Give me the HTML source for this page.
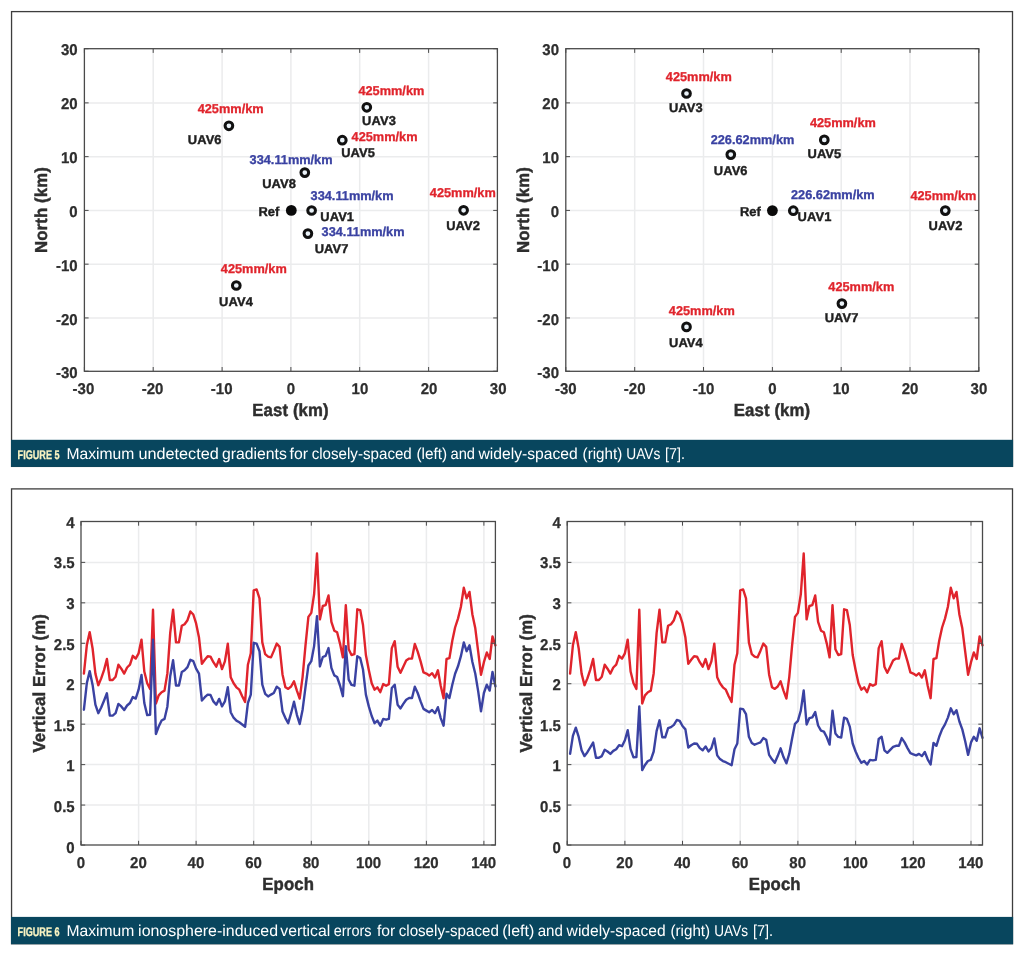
<!DOCTYPE html>
<html lang="en"><head><meta charset="utf-8"><title>Figures 5 and 6</title>
<style>html,body{margin:0;padding:0;background:#fff}svg{display:block;filter:blur(0.4px);text-rendering:geometricPrecision}text{font-family:"Liberation Sans",Arial,sans-serif}.tk{font-size:15px;font-weight:bold;fill:#2e2e2e;stroke:#2e2e2e;stroke-width:.25px}.al{font-size:16.75px;letter-spacing:.14px;font-weight:bold;fill:#2e2e2e;stroke:#2e2e2e;stroke-width:.45px}.lb{font-size:12.9px;font-weight:bold;fill:#1f1f1f;stroke:#1f1f1f;stroke-width:.4px;letter-spacing:.1px}.r{font-size:12.75px;font-weight:bold;fill:#e0242c;stroke:#e0242c;stroke-width:.3px}.b{font-size:12.75px;font-weight:bold;fill:#3a42a2;stroke:#3a42a2;stroke-width:.3px}.fg{font-size:12.4px;font-weight:bold;fill:#faf4c2;stroke:#faf4c2;stroke-width:.3px}.cp{font-size:15.8px;fill:#fff}</style></head><body>
<svg width="1024" height="964" viewBox="0 0 1024 964">
<rect width="1024" height="964" fill="#fff"/>
<rect x="11.55" y="11.60" width="1000.95" height="454.8" fill="#fff" stroke="#3d3d3d" stroke-width="1.3"/>
<rect x="11" y="439.8" width="1002.1" height="27.1" fill="#08465e"/>
<text class="fg" x="17.6" y="458.7" textLength="42" lengthAdjust="spacingAndGlyphs">FIGURE 5</text>
<text class="cp" x="66.5" y="458.9" textLength="67.9" lengthAdjust="spacingAndGlyphs">Maximum</text>
<text class="cp" x="138.5" y="458.9" textLength="80.3" lengthAdjust="spacingAndGlyphs">undetected</text>
<text class="cp" x="222.0" y="458.9" textLength="64.9" lengthAdjust="spacingAndGlyphs">gradients</text>
<text class="cp" x="289.5" y="458.9" textLength="18.5" lengthAdjust="spacingAndGlyphs">for</text>
<text class="cp" x="311.7" y="458.9" textLength="100.1" lengthAdjust="spacingAndGlyphs">closely-spaced</text>
<text class="cp" x="416.5" y="458.9" textLength="30.7" lengthAdjust="spacingAndGlyphs">(left)</text>
<text class="cp" x="450.5" y="458.9" textLength="24.5" lengthAdjust="spacingAndGlyphs">and</text>
<text class="cp" x="478.5" y="458.9" textLength="99.3" lengthAdjust="spacingAndGlyphs">widely-spaced</text>
<text class="cp" x="582.6" y="458.9" textLength="39.7" lengthAdjust="spacingAndGlyphs">(right)</text>
<text class="cp" x="626.3" y="458.9" textLength="34.1" lengthAdjust="spacingAndGlyphs">UAVs</text>
<text class="cp" x="665.1" y="458.9" textLength="19.9" lengthAdjust="spacingAndGlyphs">[7].</text>
<path d="M153.2 48.7V371.2M222.1 48.7V371.2M290.9 48.7V371.2M359.7 48.7V371.2M428.6 48.7V371.2M84.4 317.94H497.4M84.4 264.17H497.4M84.4 210.41H497.4M84.4 156.65H497.4M84.4 102.88H497.4" stroke="#ebeced" stroke-width="1.5" fill="none"/>
<path d="M84.4 371.2v-4.2M84.4 48.7v4.2M153.2 371.2v-4.2M153.2 48.7v4.2M222.1 371.2v-4.2M222.1 48.7v4.2M290.9 371.2v-4.2M290.9 48.7v4.2M359.7 371.2v-4.2M359.7 48.7v4.2M428.6 371.2v-4.2M428.6 48.7v4.2M497.4 371.2v-4.2M497.4 48.7v4.2M84.4 371.25h4.2M497.4 371.25h-4.2M84.4 317.94h4.2M497.4 317.94h-4.2M84.4 264.17h4.2M497.4 264.17h-4.2M84.4 210.41h4.2M497.4 210.41h-4.2M84.4 156.65h4.2M497.4 156.65h-4.2M84.4 102.88h4.2M497.4 102.88h-4.2M84.4 48.67h4.2M497.4 48.67h-4.2" stroke="#4a4a4a" stroke-width="1" fill="none"/>
<rect x="84.4" y="48.7" width="413.0" height="322.6" fill="none" stroke="#4a4a4a" stroke-width="1.3"/>
<text class="tk" text-anchor="middle" transform="translate(83.4 394.4) scale(1 1.04)">-30</text>
<text class="tk" text-anchor="middle" transform="translate(152.5 394.4) scale(1 1.04)">-20</text>
<text class="tk" text-anchor="middle" transform="translate(221.7 394.4) scale(1 1.04)">-10</text>
<text class="tk" text-anchor="middle" transform="translate(290.8 394.4) scale(1 1.04)">0</text>
<text class="tk" text-anchor="middle" transform="translate(359.9 394.4) scale(1 1.04)">10</text>
<text class="tk" text-anchor="middle" transform="translate(429.1 394.4) scale(1 1.04)">20</text>
<text class="tk" text-anchor="middle" transform="translate(498.2 394.4) scale(1 1.04)">30</text>
<text class="tk" text-anchor="end" transform="translate(77.6 378.4) scale(1 1.04)">-30</text>
<text class="tk" text-anchor="end" transform="translate(77.6 324.5) scale(1 1.04)">-20</text>
<text class="tk" text-anchor="end" transform="translate(77.6 270.5) scale(1 1.04)">-10</text>
<text class="tk" text-anchor="end" transform="translate(77.6 216.6) scale(1 1.04)">0</text>
<text class="tk" text-anchor="end" transform="translate(77.6 162.7) scale(1 1.04)">10</text>
<text class="tk" text-anchor="end" transform="translate(77.6 108.8) scale(1 1.04)">20</text>
<text class="tk" text-anchor="end" transform="translate(77.6 54.8) scale(1 1.04)">30</text>
<text class="al" text-anchor="middle" transform="translate(290.5 415.9) scale(1 1.05)">East (km)</text>
<text class="al" text-anchor="middle" transform="translate(47.4 210.0) rotate(-90) scale(1 1.03)">North (km)</text>
<circle cx="311.6" cy="210.5" r="3.85" fill="#eaf2f8" stroke="#111" stroke-width="3"/>
<circle cx="463.6" cy="210.3" r="3.85" fill="#eaf2f8" stroke="#111" stroke-width="3"/>
<circle cx="366.8" cy="107.3" r="3.85" fill="#eaf2f8" stroke="#111" stroke-width="3"/>
<circle cx="236.3" cy="285.5" r="3.85" fill="#eaf2f8" stroke="#111" stroke-width="3"/>
<circle cx="342.3" cy="140.2" r="3.85" fill="#eaf2f8" stroke="#111" stroke-width="3"/>
<circle cx="228.9" cy="125.8" r="3.85" fill="#eaf2f8" stroke="#111" stroke-width="3"/>
<circle cx="307.9" cy="233.6" r="3.85" fill="#eaf2f8" stroke="#111" stroke-width="3"/>
<circle cx="304.8" cy="172.6" r="3.85" fill="#eaf2f8" stroke="#111" stroke-width="3"/>
<circle cx="291.3" cy="210.4" r="5.4" fill="#0a0a0a"/>
<text class="r" x="197.7" y="113.1">425mm/km</text>
<text class="lb" x="187.8" y="143.5">UAV6</text>
<text class="b" x="249.6" y="163.7">334.11mm/km</text>
<text class="lb" x="262.2" y="188.1">UAV8</text>
<text class="lb" x="258.4" y="216.0">Ref</text>
<text class="b" x="310.6" y="199.8">334.11mm/km</text>
<text class="lb" x="320.3" y="220.8">UAV1</text>
<text class="b" x="321.6" y="236.0">334.11mm/km</text>
<text class="lb" x="314.7" y="253.2">UAV7</text>
<text class="r" x="358.4" y="94.6">425mm/km</text>
<text class="lb" x="362.1" y="124.8">UAV3</text>
<text class="r" x="351.6" y="140.6">425mm/km</text>
<text class="lb" x="341.2" y="157.3">UAV5</text>
<text class="r" x="429.8" y="197.1">425mm/km</text>
<text class="lb" x="446.2" y="229.6">UAV2</text>
<text class="r" x="220.8" y="273.2">425mm/km</text>
<text class="lb" x="219.1" y="305.6">UAV4</text>
<path d="M634.7 48.7V371.2M703.5 48.7V371.2M772.4 48.7V371.2M841.2 48.7V371.2M910.0 48.7V371.2M565.8 317.94H978.9M565.8 264.17H978.9M565.8 210.41H978.9M565.8 156.65H978.9M565.8 102.88H978.9" stroke="#ebeced" stroke-width="1.5" fill="none"/>
<path d="M565.8 371.2v-4.2M565.8 48.7v4.2M634.7 371.2v-4.2M634.7 48.7v4.2M703.5 371.2v-4.2M703.5 48.7v4.2M772.4 371.2v-4.2M772.4 48.7v4.2M841.2 371.2v-4.2M841.2 48.7v4.2M910.0 371.2v-4.2M910.0 48.7v4.2M978.9 371.2v-4.2M978.9 48.7v4.2M565.8 371.25h4.2M978.9 371.25h-4.2M565.8 317.94h4.2M978.9 317.94h-4.2M565.8 264.17h4.2M978.9 264.17h-4.2M565.8 210.41h4.2M978.9 210.41h-4.2M565.8 156.65h4.2M978.9 156.65h-4.2M565.8 102.88h4.2M978.9 102.88h-4.2M565.8 48.67h4.2M978.9 48.67h-4.2" stroke="#4a4a4a" stroke-width="1" fill="none"/>
<rect x="565.8" y="48.7" width="413.0" height="322.6" fill="none" stroke="#4a4a4a" stroke-width="1.3"/>
<text class="tk" text-anchor="middle" transform="translate(565.8 394.4) scale(1 1.04)">-30</text>
<text class="tk" text-anchor="middle" transform="translate(634.7 394.4) scale(1 1.04)">-20</text>
<text class="tk" text-anchor="middle" transform="translate(703.5 394.4) scale(1 1.04)">-10</text>
<text class="tk" text-anchor="middle" transform="translate(772.4 394.4) scale(1 1.04)">0</text>
<text class="tk" text-anchor="middle" transform="translate(841.2 394.4) scale(1 1.04)">10</text>
<text class="tk" text-anchor="middle" transform="translate(910.0 394.4) scale(1 1.04)">20</text>
<text class="tk" text-anchor="middle" transform="translate(978.9 394.4) scale(1 1.04)">30</text>
<text class="tk" text-anchor="end" transform="translate(559.0 378.4) scale(1 1.04)">-30</text>
<text class="tk" text-anchor="end" transform="translate(559.0 324.5) scale(1 1.04)">-20</text>
<text class="tk" text-anchor="end" transform="translate(559.0 270.5) scale(1 1.04)">-10</text>
<text class="tk" text-anchor="end" transform="translate(559.0 216.6) scale(1 1.04)">0</text>
<text class="tk" text-anchor="end" transform="translate(559.0 162.7) scale(1 1.04)">10</text>
<text class="tk" text-anchor="end" transform="translate(559.0 108.8) scale(1 1.04)">20</text>
<text class="tk" text-anchor="end" transform="translate(559.0 54.8) scale(1 1.04)">30</text>
<text class="al" text-anchor="middle" transform="translate(772.0 415.9) scale(1 1.05)">East (km)</text>
<text class="al" text-anchor="middle" transform="translate(528.9 210.0) rotate(-90) scale(1 1.03)">North (km)</text>
<circle cx="793.3" cy="210.7" r="3.85" fill="#eaf2f8" stroke="#111" stroke-width="3"/>
<circle cx="945.3" cy="210.6" r="3.85" fill="#eaf2f8" stroke="#111" stroke-width="3"/>
<circle cx="686.5" cy="93.5" r="3.85" fill="#eaf2f8" stroke="#111" stroke-width="3"/>
<circle cx="686.5" cy="326.9" r="3.85" fill="#eaf2f8" stroke="#111" stroke-width="3"/>
<circle cx="824.3" cy="139.9" r="3.85" fill="#eaf2f8" stroke="#111" stroke-width="3"/>
<circle cx="730.8" cy="154.6" r="3.85" fill="#eaf2f8" stroke="#111" stroke-width="3"/>
<circle cx="841.9" cy="303.6" r="3.85" fill="#eaf2f8" stroke="#111" stroke-width="3"/>
<circle cx="772.4" cy="210.6" r="5.4" fill="#0a0a0a"/>
<text class="r" x="665.8" y="81.1">425mm/km</text>
<text class="lb" x="668.9" y="112.2">UAV3</text>
<text class="b" x="710.7" y="143.7">226.62mm/km</text>
<text class="lb" x="713.8" y="174.9">UAV6</text>
<text class="r" x="809.9" y="126.9">425mm/km</text>
<text class="lb" x="807.5" y="158.0">UAV5</text>
<text class="lb" x="739.9" y="216.0">Ref</text>
<text class="b" x="791.0" y="198.5">226.62mm/km</text>
<text class="lb" x="797.6" y="220.8">UAV1</text>
<text class="r" x="910.4" y="199.5">425mm/km</text>
<text class="lb" x="928.6" y="229.7">UAV2</text>
<text class="r" x="668.8" y="315.3">425mm/km</text>
<text class="lb" x="669.0" y="347.0">UAV4</text>
<text class="r" x="828.3" y="291.4">425mm/km</text>
<text class="lb" x="824.7" y="322.4">UAV7</text>
<rect x="11.55" y="488.90" width="1000.95" height="454.8" fill="#fff" stroke="#3d3d3d" stroke-width="1.3"/>
<rect x="11" y="916.9" width="1002.1" height="27.3" fill="#08465e"/>
<text class="fg" x="17.6" y="935.8" textLength="42" lengthAdjust="spacingAndGlyphs">FIGURE 6</text>
<text class="cp" x="66.5" y="936.0" textLength="67.9" lengthAdjust="spacingAndGlyphs">Maximum</text>
<text class="cp" x="138.1" y="936.0" textLength="140.0" lengthAdjust="spacingAndGlyphs">ionosphere-induced</text>
<text class="cp" x="280.3" y="936.0" textLength="49.9" lengthAdjust="spacingAndGlyphs">vertical</text>
<text class="cp" x="333.7" y="936.0" textLength="37.9" lengthAdjust="spacingAndGlyphs">errors</text>
<text class="cp" x="376.9" y="936.0" textLength="18.3" lengthAdjust="spacingAndGlyphs">for</text>
<text class="cp" x="398.7" y="936.0" textLength="100.2" lengthAdjust="spacingAndGlyphs">closely-spaced</text>
<text class="cp" x="502.3" y="936.0" textLength="32.0" lengthAdjust="spacingAndGlyphs">(left)</text>
<text class="cp" x="537.7" y="936.0" textLength="25.2" lengthAdjust="spacingAndGlyphs">and</text>
<text class="cp" x="566.6" y="936.0" textLength="99.0" lengthAdjust="spacingAndGlyphs">widely-spaced</text>
<text class="cp" x="670.5" y="936.0" textLength="39.6" lengthAdjust="spacingAndGlyphs">(right)</text>
<text class="cp" x="714.3" y="936.0" textLength="33.7" lengthAdjust="spacingAndGlyphs">UAVs</text>
<text class="cp" x="752.9" y="936.0" textLength="20.2" lengthAdjust="spacingAndGlyphs">[7].</text>
<path d="M138.6 521.5V845.0M196.1 521.5V845.0M253.7 521.5V845.0M311.3 521.5V845.0M368.8 521.5V845.0M426.4 521.5V845.0M483.9 521.5V845.0M81.0 805.06H495.4M81.0 764.61H495.4M81.0 724.17H495.4M81.0 683.73H495.4M81.0 643.28H495.4M81.0 602.84H495.4M81.0 562.39H495.4" stroke="#ebeced" stroke-width="1.5" fill="none"/>
<polyline points="83.9,673.6 86.8,645.3 89.7,632.1 92.6,648.5 95.4,673.6 98.3,685.2 101.2,678.4 104.1,669.9 106.9,659.0 109.8,680.0 112.7,680.0 115.6,676.8 118.4,664.7 121.3,668.7 124.2,673.6 127.1,667.5 130.0,664.7 132.8,655.8 135.7,658.6 138.6,653.3 141.5,639.6 144.3,671.5 147.2,683.3 150.1,688.9 153.0,609.7 155.9,703.5 158.7,695.4 161.6,692.2 164.5,690.6 167.4,673.2 170.2,633.1 173.1,609.7 176.0,642.4 178.9,642.4 181.8,625.8 184.6,624.2 187.5,620.2 190.4,611.5 193.3,614.5 196.1,623.4 199.0,637.6 201.9,663.9 204.8,659.8 207.7,656.2 210.5,656.6 213.4,662.2 216.3,666.7 219.2,659.0 222.0,669.1 224.9,661.4 227.8,643.6 230.7,677.2 233.6,683.3 236.4,687.3 239.3,689.7 242.2,696.2 245.1,701.9 247.9,664.7 250.8,653.3 253.7,590.3 256.6,589.4 259.5,598.3 262.3,642.4 265.2,654.2 268.1,656.6 271.0,657.4 273.8,650.9 276.7,643.6 279.6,646.9 282.5,674.4 285.4,687.3 288.2,688.9 291.1,686.5 294.0,681.3 296.9,690.6 299.7,698.6 302.6,676.8 305.5,645.3 308.4,616.9 311.3,612.9 314.1,594.3 317.0,553.5 319.9,619.4 322.8,606.0 325.6,605.2 328.5,595.5 331.4,621.8 334.3,630.7 337.1,632.3 340.0,643.6 342.9,657.4 345.8,605.2 348.7,649.3 351.5,655.0 354.4,654.2 357.3,609.3 360.2,610.1 363.0,625.0 365.9,655.0 368.8,669.9 371.7,683.3 374.6,689.7 377.4,687.3 380.3,692.2 383.2,684.1 386.1,685.7 388.9,684.1 391.8,648.1 394.7,641.2 397.6,666.7 400.5,672.8 403.3,666.7 406.2,660.6 409.1,658.6 412.0,658.6 414.8,644.0 417.7,651.7 420.6,661.4 423.5,672.4 426.4,673.6 429.2,675.6 432.1,673.2 435.0,677.6 437.9,670.3 440.7,685.7 443.6,698.2 446.5,659.0 449.4,658.2 452.3,640.8 455.1,627.5 458.0,618.6 460.9,606.8 463.8,587.8 466.6,598.3 469.5,591.9 472.4,614.5 475.3,628.3 478.2,651.7 481.0,674.8 483.9,662.2 486.8,652.5 489.7,659.0 492.5,636.4 495.4,645.3" fill="none" stroke="#e0242c" stroke-width="2.4" stroke-linejoin="round" stroke-linecap="round"/>
<polyline points="83.9,709.7 86.8,683.3 89.7,671.1 92.6,684.9 95.4,704.7 98.3,713.2 101.2,707.5 104.1,700.5 106.9,693.3 109.8,715.6 112.7,715.6 115.6,713.2 118.4,703.9 121.3,706.4 124.2,710.0 127.1,705.5 130.0,703.0 132.8,697.0 135.7,698.6 138.6,689.7 141.5,674.9 144.3,703.0 147.2,715.1 150.1,714.8 153.0,639.6 155.9,734.0 158.7,726.5 161.6,720.5 164.5,718.9 167.4,706.4 170.2,676.2 173.1,660.3 176.0,685.5 178.9,685.5 181.8,672.0 184.6,670.3 187.5,667.1 190.4,659.8 193.3,661.2 196.1,668.7 199.0,673.7 201.9,700.5 204.8,697.2 207.7,694.6 210.5,695.0 213.4,701.4 216.3,704.7 219.2,698.9 222.0,706.4 224.9,701.4 227.8,687.2 230.7,712.2 233.6,717.7 236.4,720.6 239.3,722.3 242.2,724.5 245.1,726.8 247.9,703.0 250.8,694.6 253.7,642.8 256.6,643.6 259.5,651.2 262.3,684.7 265.2,693.8 268.1,696.4 271.0,694.6 273.8,693.0 276.7,686.7 279.6,688.9 282.5,711.4 285.4,718.1 288.2,723.2 291.1,713.2 294.0,701.7 296.9,714.8 299.7,724.0 302.6,709.7 305.5,687.2 308.4,665.5 311.3,661.2 314.1,646.1 317.0,616.1 319.9,666.5 322.8,657.0 325.6,655.8 328.5,648.1 331.4,667.9 334.3,675.4 337.1,677.0 340.0,685.5 342.9,696.2 345.8,646.1 348.7,679.6 351.5,684.9 354.4,685.7 357.3,656.2 360.2,658.0 363.0,669.5 365.9,694.6 368.8,706.4 371.7,716.0 374.6,723.2 377.4,720.6 380.3,725.7 383.2,718.9 386.1,719.7 388.9,718.9 391.8,688.0 394.7,684.7 397.6,704.7 400.5,708.4 403.3,703.9 406.2,699.7 409.1,698.0 412.0,698.0 414.8,686.7 417.7,693.0 420.6,701.4 423.5,708.9 426.4,710.6 429.2,712.2 432.1,710.0 435.0,713.2 437.9,707.2 440.7,718.1 443.6,725.7 446.5,693.8 449.4,698.0 452.3,684.7 455.1,673.7 458.0,666.3 460.9,656.2 463.8,642.4 466.6,651.2 469.5,645.3 472.4,662.0 475.3,673.7 478.2,691.4 481.0,711.4 483.9,693.0 486.8,684.7 489.7,690.6 492.5,672.0 495.4,686.3" fill="none" stroke="#3a42a2" stroke-width="2.4" stroke-linejoin="round" stroke-linecap="round"/>
<path d="M81.0 845.0v-4.2M81.0 521.5v4.2M138.6 845.0v-4.2M138.6 521.5v4.2M196.1 845.0v-4.2M196.1 521.5v4.2M253.7 845.0v-4.2M253.7 521.5v4.2M311.3 845.0v-4.2M311.3 521.5v4.2M368.8 845.0v-4.2M368.8 521.5v4.2M426.4 845.0v-4.2M426.4 521.5v4.2M483.9 845.0v-4.2M483.9 521.5v4.2M81.0 845.05h4.2M495.4 845.05h-4.2M81.0 805.06h4.2M495.4 805.06h-4.2M81.0 764.61h4.2M495.4 764.61h-4.2M81.0 724.17h4.2M495.4 724.17h-4.2M81.0 683.73h4.2M495.4 683.73h-4.2M81.0 643.28h4.2M495.4 643.28h-4.2M81.0 602.84h4.2M495.4 602.84h-4.2M81.0 562.39h4.2M495.4 562.39h-4.2M81.0 521.50h4.2M495.4 521.50h-4.2" stroke="#4a4a4a" stroke-width="1" fill="none"/>
<rect x="81.0" y="521.5" width="414.4" height="323.5" fill="none" stroke="#4a4a4a" stroke-width="1.3"/>
<text class="tk" text-anchor="middle" transform="translate(80.8 868.2) scale(1 1.04)">0</text>
<text class="tk" text-anchor="middle" transform="translate(138.4 868.2) scale(1 1.04)">20</text>
<text class="tk" text-anchor="middle" transform="translate(195.9 868.2) scale(1 1.04)">40</text>
<text class="tk" text-anchor="middle" transform="translate(253.5 868.2) scale(1 1.04)">60</text>
<text class="tk" text-anchor="middle" transform="translate(311.1 868.2) scale(1 1.04)">80</text>
<text class="tk" text-anchor="middle" transform="translate(368.6 868.2) scale(1 1.04)">100</text>
<text class="tk" text-anchor="middle" transform="translate(426.2 868.2) scale(1 1.04)">120</text>
<text class="tk" text-anchor="middle" transform="translate(483.7 868.2) scale(1 1.04)">140</text>
<text class="tk" text-anchor="end" transform="translate(74.7 852.7) scale(1 1.04)">0</text>
<text class="tk" text-anchor="end" transform="translate(74.7 812.1) scale(1 1.04)">0.5</text>
<text class="tk" text-anchor="end" transform="translate(74.7 771.4) scale(1 1.04)">1</text>
<text class="tk" text-anchor="end" transform="translate(74.7 730.8) scale(1 1.04)">1.5</text>
<text class="tk" text-anchor="end" transform="translate(74.7 690.1) scale(1 1.04)">2</text>
<text class="tk" text-anchor="end" transform="translate(74.7 649.5) scale(1 1.04)">2.5</text>
<text class="tk" text-anchor="end" transform="translate(74.7 608.8) scale(1 1.04)">3</text>
<text class="tk" text-anchor="end" transform="translate(74.7 568.2) scale(1 1.04)">3.5</text>
<text class="tk" text-anchor="end" transform="translate(74.7 527.5) scale(1 1.04)">4</text>
<text class="al" text-anchor="middle" transform="translate(288.2 889.8) scale(1 1.05)">Epoch</text>
<text class="al" text-anchor="middle" transform="translate(45.0 683.3) rotate(-90) scale(1 1.03)">Vertical Error (m)</text>
<path d="M624.9 521.5V845.0M682.5 521.5V845.0M740.2 521.5V845.0M797.9 521.5V845.0M855.6 521.5V845.0M913.3 521.5V845.0M971.0 521.5V845.0M567.2 805.06H982.5M567.2 764.61H982.5M567.2 724.17H982.5M567.2 683.73H982.5M567.2 643.28H982.5M567.2 602.84H982.5M567.2 562.39H982.5" stroke="#ebeced" stroke-width="1.5" fill="none"/>
<polyline points="570.1,673.6 572.9,645.3 575.8,632.1 578.7,648.5 581.6,673.6 584.5,685.2 587.4,678.4 590.2,669.9 593.1,659.0 596.0,680.0 598.9,680.0 601.8,676.8 604.7,664.7 607.5,668.7 610.4,673.6 613.3,667.5 616.2,664.7 619.1,655.8 622.0,658.6 624.9,653.3 627.7,639.6 630.6,671.5 633.5,683.3 636.4,688.9 639.3,609.7 642.2,703.5 645.0,695.4 647.9,692.2 650.8,690.6 653.7,673.2 656.6,633.1 659.5,609.7 662.3,642.4 665.2,642.4 668.1,625.8 671.0,624.2 673.9,620.2 676.8,611.5 679.7,614.5 682.5,623.4 685.4,637.6 688.3,663.9 691.2,659.8 694.1,656.2 697.0,656.6 699.8,662.2 702.7,666.7 705.6,659.0 708.5,669.1 711.4,661.4 714.3,643.6 717.2,677.2 720.0,683.3 722.9,687.3 725.8,689.7 728.7,696.2 731.6,701.9 734.5,664.7 737.3,653.3 740.2,590.3 743.1,589.4 746.0,598.3 748.9,642.4 751.8,654.2 754.6,656.6 757.5,657.4 760.4,650.9 763.3,643.6 766.2,646.9 769.1,674.4 772.0,687.3 774.8,688.9 777.7,686.5 780.6,681.3 783.5,690.6 786.4,698.6 789.3,676.8 792.1,645.3 795.0,616.9 797.9,612.9 800.8,594.3 803.7,553.5 806.6,619.4 809.4,606.0 812.3,605.2 815.2,595.5 818.1,621.8 821.0,630.7 823.9,632.3 826.8,643.6 829.6,657.4 832.5,605.2 835.4,649.3 838.3,655.0 841.2,654.2 844.1,609.3 846.9,610.1 849.8,625.0 852.7,655.0 855.6,669.9 858.5,683.3 861.4,689.7 864.2,687.3 867.1,692.2 870.0,684.1 872.9,685.7 875.8,684.1 878.7,648.1 881.6,641.2 884.4,666.7 887.3,672.8 890.2,666.7 893.1,660.6 896.0,658.6 898.9,658.6 901.7,644.0 904.6,651.7 907.5,661.4 910.4,672.4 913.3,673.6 916.2,675.6 919.0,673.2 921.9,677.6 924.8,670.3 927.7,685.7 930.6,698.2 933.5,659.0 936.4,658.2 939.2,640.8 942.1,627.5 945.0,618.6 947.9,606.8 950.8,587.8 953.7,598.3 956.5,591.9 959.4,614.5 962.3,628.3 965.2,651.7 968.1,674.8 971.0,662.2 973.8,652.5 976.7,659.0 979.6,636.4 982.5,645.3" fill="none" stroke="#e0242c" stroke-width="2.4" stroke-linejoin="round" stroke-linecap="round"/>
<polyline points="570.1,753.7 572.9,735.9 575.8,727.7 578.7,736.9 581.6,750.3 584.5,756.1 587.4,752.2 590.2,747.5 593.1,742.6 596.0,757.7 598.9,757.7 601.8,756.1 604.7,749.8 607.5,751.5 610.4,753.9 613.3,750.9 616.2,749.2 619.1,745.1 622.0,746.2 624.9,740.2 627.7,730.2 630.6,749.2 633.5,757.3 636.4,757.1 639.3,706.4 642.2,770.1 645.0,765.0 647.9,761.0 650.8,759.9 653.7,751.5 656.6,731.1 659.5,720.3 662.3,737.3 665.2,737.3 668.1,728.2 671.0,727.1 673.9,724.9 676.8,720.0 679.7,720.9 682.5,726.0 685.4,729.4 688.3,747.5 691.2,745.2 694.1,743.5 697.0,743.8 699.8,748.1 702.7,750.3 705.6,746.4 708.5,751.5 711.4,748.1 714.3,738.5 717.2,755.4 720.0,759.1 722.9,761.1 725.8,762.2 728.7,763.7 731.6,765.2 734.5,749.2 737.3,743.5 740.2,708.6 743.1,709.1 746.0,714.2 748.9,736.8 751.8,742.9 754.6,744.7 757.5,743.5 760.4,742.4 763.3,738.1 766.2,739.7 769.1,754.9 772.0,759.3 774.8,762.8 777.7,756.1 780.6,748.3 783.5,757.1 786.4,763.3 789.3,753.7 792.1,738.5 795.0,723.8 797.9,720.9 800.8,710.7 803.7,690.5 806.6,724.5 809.4,718.1 812.3,717.3 815.2,712.1 818.1,725.5 821.0,730.6 823.9,731.6 826.8,737.3 829.6,744.6 832.5,710.7 835.4,733.4 838.3,736.9 841.2,737.5 844.1,717.6 846.9,718.8 849.8,726.6 852.7,743.5 855.6,751.5 858.5,758.0 861.4,762.8 864.2,761.1 867.1,764.5 870.0,759.9 872.9,760.4 875.8,759.9 878.7,739.0 881.6,736.8 884.4,750.3 887.3,752.8 890.2,749.8 893.1,746.9 896.0,745.8 898.9,745.8 901.7,738.1 904.6,742.4 907.5,748.1 910.4,753.2 913.3,754.3 916.2,755.4 919.0,753.9 921.9,756.1 924.8,752.0 927.7,759.3 930.6,764.5 933.5,742.9 936.4,745.8 939.2,736.8 942.1,729.4 945.0,724.4 947.9,717.6 950.8,708.3 953.7,714.2 956.5,710.2 959.4,721.5 962.3,729.4 965.2,741.3 968.1,754.9 971.0,742.4 973.8,736.8 976.7,740.8 979.6,728.3 982.5,737.9" fill="none" stroke="#3a42a2" stroke-width="2.4" stroke-linejoin="round" stroke-linecap="round"/>
<path d="M567.2 845.0v-4.2M567.2 521.5v4.2M624.9 845.0v-4.2M624.9 521.5v4.2M682.5 845.0v-4.2M682.5 521.5v4.2M740.2 845.0v-4.2M740.2 521.5v4.2M797.9 845.0v-4.2M797.9 521.5v4.2M855.6 845.0v-4.2M855.6 521.5v4.2M913.3 845.0v-4.2M913.3 521.5v4.2M971.0 845.0v-4.2M971.0 521.5v4.2M567.2 845.05h4.2M982.5 845.05h-4.2M567.2 805.06h4.2M982.5 805.06h-4.2M567.2 764.61h4.2M982.5 764.61h-4.2M567.2 724.17h4.2M982.5 724.17h-4.2M567.2 683.73h4.2M982.5 683.73h-4.2M567.2 643.28h4.2M982.5 643.28h-4.2M567.2 602.84h4.2M982.5 602.84h-4.2M567.2 562.39h4.2M982.5 562.39h-4.2M567.2 521.50h4.2M982.5 521.50h-4.2" stroke="#4a4a4a" stroke-width="1" fill="none"/>
<rect x="567.2" y="521.5" width="415.3" height="323.5" fill="none" stroke="#4a4a4a" stroke-width="1.3"/>
<text class="tk" text-anchor="middle" transform="translate(567.0 868.2) scale(1 1.04)">0</text>
<text class="tk" text-anchor="middle" transform="translate(624.7 868.2) scale(1 1.04)">20</text>
<text class="tk" text-anchor="middle" transform="translate(682.3 868.2) scale(1 1.04)">40</text>
<text class="tk" text-anchor="middle" transform="translate(740.0 868.2) scale(1 1.04)">60</text>
<text class="tk" text-anchor="middle" transform="translate(797.7 868.2) scale(1 1.04)">80</text>
<text class="tk" text-anchor="middle" transform="translate(855.4 868.2) scale(1 1.04)">100</text>
<text class="tk" text-anchor="middle" transform="translate(913.1 868.2) scale(1 1.04)">120</text>
<text class="tk" text-anchor="middle" transform="translate(970.8 868.2) scale(1 1.04)">140</text>
<text class="tk" text-anchor="end" transform="translate(560.9 852.7) scale(1 1.04)">0</text>
<text class="tk" text-anchor="end" transform="translate(560.9 812.1) scale(1 1.04)">0.5</text>
<text class="tk" text-anchor="end" transform="translate(560.9 771.4) scale(1 1.04)">1</text>
<text class="tk" text-anchor="end" transform="translate(560.9 730.8) scale(1 1.04)">1.5</text>
<text class="tk" text-anchor="end" transform="translate(560.9 690.1) scale(1 1.04)">2</text>
<text class="tk" text-anchor="end" transform="translate(560.9 649.5) scale(1 1.04)">2.5</text>
<text class="tk" text-anchor="end" transform="translate(560.9 608.8) scale(1 1.04)">3</text>
<text class="tk" text-anchor="end" transform="translate(560.9 568.2) scale(1 1.04)">3.5</text>
<text class="tk" text-anchor="end" transform="translate(560.9 527.5) scale(1 1.04)">4</text>
<text class="al" text-anchor="middle" transform="translate(774.8 889.8) scale(1 1.05)">Epoch</text>
<text class="al" text-anchor="middle" transform="translate(531.8 683.3) rotate(-90) scale(1 1.03)">Vertical Error (m)</text>
</svg></body></html>
